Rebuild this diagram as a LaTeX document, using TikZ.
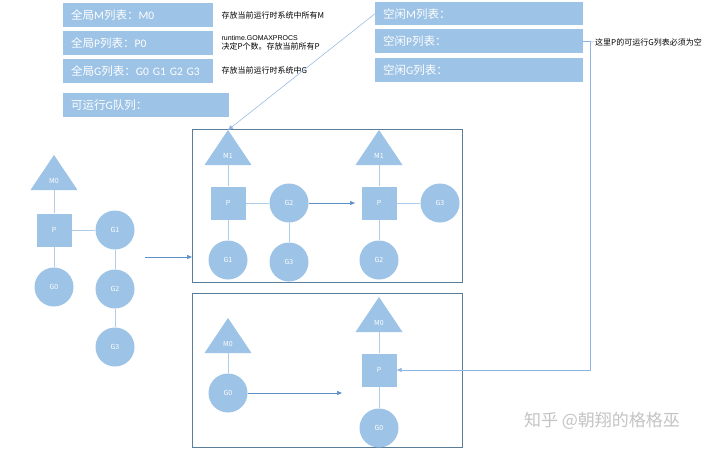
\documentclass[tikz,border=0pt]{standalone}
\usepackage{fontspec}
\setmainfont{Noto Sans CJK SC}
\newfontfamily\arialf{Liberation Sans}
\newfontfamily\calf{Carlito}
\usetikzlibrary{positioning,arrows.meta}
\definecolor{listblue}{HTML}{9DC3E6}
\definecolor{shapeblue}{HTML}{9DC3E6}
\definecolor{linkblue}{HTML}{AFCDEA}
\definecolor{framegray}{HTML}{5A7D9A}
\definecolor{arrowblue}{HTML}{5B8FC7}
\definecolor{thinblue}{HTML}{8DB4E2}
\definecolor{wmgray}{HTML}{C4C4C4}

\begin{document}
\begin{tikzpicture}[x=1pt,y=-1pt,
  lst/.style={fill=listblue,text=white,anchor=north west,font=\fontsize{11.5}{14}\selectfont,
              minimum height=24pt,inner xsep=8pt,inner ysep=0pt,text width=#1,align=left},
  note/.style={anchor=west,font=\fontsize{8}{9.5}\selectfont,inner sep=1pt,align=left},
  frame/.style={draw=framegray,line width=0.8pt,anchor=north west,
                minimum width=270pt,minimum height=153pt,inner sep=0pt},
  gr/.style={circle,fill=shapeblue,minimum size=39pt,inner sep=0pt,text=white,font=\fontsize{7}{8}\selectfont},
  pr/.style={fill=shapeblue,minimum width=35pt,minimum height=33pt,inner sep=0pt,text=white,font=\fontsize{7}{8}\selectfont},
  mlab/.style={minimum width=47pt,minimum height=18pt,inner sep=0pt,text=white,font=\fontsize{7}{8}\selectfont},
  link/.style={draw=linkblue,line width=0.9pt},
  a/.style={-{Triangle[length=5pt,width=4pt]},arrowblue,line width=0.6pt},
  thin/.style={-{Triangle[length=5pt,width=4pt]},thinblue,line width=0.5pt}]
\fill[white] (0,0) rectangle (720,450);
\useasboundingbox (0,0) rectangle (720,450);

% global lists
\node[lst=134pt] (gm) at (63,3) {全局{\calf M}列表：{\calf M0}};
\node[lst=134pt] (gp) at (63,30.5) {全局{\calf P}列表：{\calf P0}};
\node[lst=134pt] (gg) at (63,58.5) {\mbox{全局{\calf G}列表：{\calf G0 G1 G2 G3}}};
\node[lst=150pt] (rq) at (63,93) {可运行{\calf G}队列：};
\node[note,right=7pt of gm] (nm) {存放当前运行时系统中所有M};
\node[note,right=7pt of gp] (np) {{\arialf\fontsize{7}{8}\selectfont runtime.GOMAXPROCS}\\决定P个数。存放当前所有P};
\node[note,right=7pt of gg] (ng) {存放当前运行时系统中G};

% idle lists
\node[lst=192pt,minimum height=23pt] (fm) at (375,2) {空闲{\calf M}列表：};
\node[lst=192pt] (fp) at (375,29) {空闲{\calf P}列表：};
\node[lst=192pt] (fg) at (375,58) {空闲{\calf G}列表：};
\node[note] (nfp) at (594,42) {这里P的可运行G列表必须为空};

% frames
\node[frame] (box1) at (192,129) {};
\node[frame,minimum height=154pt] (box2) at (192,293) {};

% M triangles
\foreach \n/\x/\y/\t in {m0/54/155/M0,m1/228/130/M1,m2/379/130/M1,m3/228/318/M0,m4/379/297/M0}{
  \fill[shapeblue] (\x,\y) -- ++(23.5,35) -- ++(-47,0) -- cycle;
  \coordinate (\n-top) at (\x,\y);
  \node[mlab] (\n) at (\x,\y+26) {\t};
}

% left group
\node[pr] (p0) at (54,230) {P};
\node[gr] (g0) at (54,287) {G0};
\node[gr] (g1) at (115,230) {G1};
\node[gr] (g2) at (115,289) {G2};
\node[gr] (g3) at (115,347) {G3};
\draw[link] (m0.south) -- (p0.north) (p0.south) -- (g0.north) (p0.east) -- (g1.west)
            (g1.south) -- (g2.north) (g2.south) -- (g3.north);

% box 1
\node[pr] (p1) at (228,203) {P};
\node[gr] (p1g2) at (289,203) {G2};
\node[gr] (p1g1) at (228,260) {G1};
\node[gr] (p1g3) at (289,262) {G3};
\node[pr] (p2) at (379,203) {P};
\node[gr] (p2g3) at (440,203) {G3};
\node[gr] (p2g2) at (379,260) {G2};
\draw[link] (m1.south) -- (p1.north) (p1.south) -- (p1g1.north) (p1.east) -- (p1g2.west)
            (p1g2.south) -- (p1g3.north);
\draw[link] (m2.south) -- (p2.north) (p2.south) -- (p2g2.north) (p2.east) -- (p2g3.west);

% box 2
\node[gr] (m3g0) at (228,393) {G0};
\node[pr] (p4) at (379,370) {P};
\node[gr] (p4g0) at (379,428) {G0};
\draw[link] (m3.south) -- (m3g0.north);
\draw[link] (m4.south) -- (p4.north) (p4.south) -- (p4g0.north);

% arrows
\coordinate (src) at (145,257);
\coordinate (hand1) at (355,203);
\coordinate (hand2) at (342,393);
\draw[a] (src) -- (src -| box1.west);
\draw[a] (p1g2.east) -- (hand1);
\draw[a] (m3g0.east) -- (hand2);
\draw[thin] (fm.west) -- (m1-top);
\draw[thinblue,line width=0.5pt] (fp.east) -- (nfp.west);
\draw[thin] (fp.east) -- ++(7,0) |- (p4.east);

% watermark
\node[font=\fontsize{17}{20}\selectfont,text=wmgray] (wm) at (602,421) {知乎 @朝翔的格格巫};
\end{tikzpicture}
\end{document}
